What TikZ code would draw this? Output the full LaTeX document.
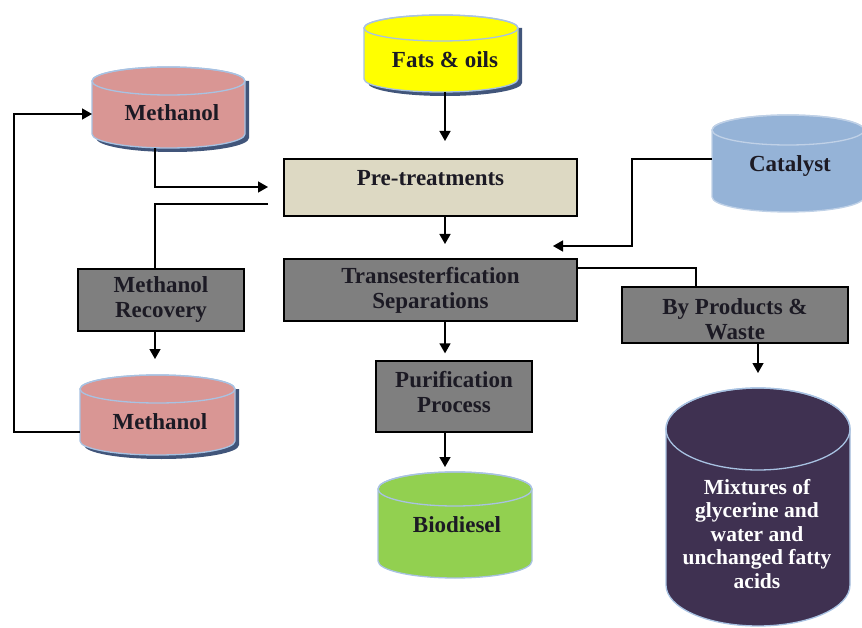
\documentclass[tikz,border=0pt]{standalone}
\usepackage{fontspec}
\setmainfont{Liberation Serif}
\usetikzlibrary{arrows.meta}
\definecolor{yel}{HTML}{FFFF00}
\definecolor{meth}{HTML}{D99694}
\definecolor{cata}{HTML}{95B3D7}
\definecolor{bio}{HTML}{92D050}
\definecolor{mixc}{HTML}{3F3151}
\definecolor{pret}{HTML}{DDD9C3}
\definecolor{grayb}{HTML}{7F7F7F}
\definecolor{edgeb}{HTML}{A8C2E2}
\definecolor{shad}{HTML}{41557A}
\definecolor{txtc}{HTML}{1C1A24}
\newcommand\drumshade[5]{%
  \pgfmathsetmacro\drx{(#3-#1)/2}%
  \fill[shad] ({#1+4},{-(#2+#5)}) -- ({#1+4},{-(#4-#5)-4}) arc[start angle=180,end angle=360,x radius=\drx,y radius=#5] -- ({#3+4},{-(#2+#5)}) -- cycle;%
}
\newcommand\drum[7]{%
  \pgfmathsetmacro\dcx{(#1+#3)/2}%
  \pgfmathsetmacro\drx{(#3-#1)/2}%
  \path[fill=#6,draw=#7,line width=1.3pt] (#1,{-(#2+#5)}) -- (#1,{-(#4-#5)}) arc[start angle=180,end angle=360,x radius=\drx,y radius=#5] -- (#3,{-(#2+#5)}) arc[start angle=0,end angle=180,x radius=\drx,y radius=#5] -- cycle;%
  \draw[#7,line width=1.3pt] (\dcx,{-(#2+#5)}) ellipse[x radius=\drx,y radius=#5];%
}
\tikzset{
  x=1pt,y=1pt,
  txt/.style={font=\fontsize{23}{25}\selectfont\bfseries, text=txtc, align=center, inner sep=0pt},
  wtxt/.style={font=\fontsize{21.5}{23.5}\selectfont\bfseries, text=white, align=center, inner sep=0pt},
  cylbox/.style={inner sep=0pt, outer sep=0pt},
  pbox/.style={draw=black, line width=1.3pt, inner sep=0pt},
  conn/.style={draw=black, line width=1.4pt},
  arr/.style={conn, -{Triangle[length=10pt,width=11pt]}}
}
\begin{document}
\begin{tikzpicture}
\useasboundingbox (0,0) rectangle (862,-628);
% cylinders (drawn)
\drumshade{364}{15}{518}{92}{13}
\drum{364}{15}{518}{92}{13}{yel}{edgeb}
\drumshade{92}{67}{245}{148}{14}
\drum{92}{67}{245}{148}{14}{meth}{edgeb}
\drum{712}{115}{864}{212}{15}{cata}{cata!60!white}
\drumshade{80}{375}{235}{455}{14}
\drum{80}{375}{235}{455}{14}{meth}{edgeb}
\drum{378}{472}{532}{578}{17}{bio}{edgeb}
\drum{666}{388}{850}{626}{41}{mixc}{edgeb}
% cylinder nodes
\node[cylbox, minimum width=154pt, minimum height=77pt] (fats) at (441,-53.5) {};
\node[cylbox, minimum width=153pt, minimum height=81pt] (meth1) at (168.5,-107.5) {};
\node[cylbox, minimum width=150pt, minimum height=97pt] (cat) at (787,-163.5) {};
\node[cylbox, minimum width=155pt, minimum height=80pt] (meth2) at (157.5,-415) {};
\node[cylbox, minimum width=154pt, minimum height=106pt] (bio) at (455,-525) {};
\node[cylbox, minimum width=184pt, minimum height=238pt] (mix) at (758,-507) {};
\node[txt] (fatsT) at (445,-60) {Fats \& oils};
\node[txt] (meth1T) at (172,-113) {Methanol};
\node[txt] (catT) at (790,-166) {Catalyst};
\node[txt] (meth2T) at (160,-422) {Methanol};
\node[txt] (bioT) at (457,-525) {Biodiesel};
\node[wtxt] (mixT) at (757,-534) {Mixtures of\\glycerine and\\water and\\unchanged fatty\\acids};
% boxes
\node[pbox, fill=pret, minimum width=293pt, minimum height=57pt] (pre) at (430.5,-187.5) {};
\node[txt] (preT) at (430.5,-178) {Pre-treatments};
\node[pbox, fill=grayb, minimum width=293pt, minimum height=62pt] (trans) at (430.5,-290) {};
\node[txt] at (trans) {Transesterfication\\Separations};
\node[pbox, fill=grayb, minimum width=166pt, minimum height=62pt] (recov) at (161,-300) {};
\node[txt] at (recov) {Methanol\\Recovery};
\node[pbox, fill=grayb, minimum width=226pt, minimum height=56pt] (byp) at (735,-315) {};
\node[txt] at ([yshift=-4pt]byp.center) {By Products \&\\Waste};
\node[pbox, fill=grayb, minimum width=156pt, minimum height=71pt] (purif) at (454,-396.5) {};
\node[txt] at ([yshift=4pt]purif.center) {Purification\\Process};
% coordinates
\coordinate (sp) at (445,0);
\coordinate (lx) at (14,0);
\coordinate (xc) at (632,0);
\coordinate (aFats) at (445,-141);
\coordinate (inPre) at (268,-187);
\coordinate (outPre) at (268,-204);
\coordinate (aTrans) at (445,-244);
\coordinate (catIn) at (553,-246);
\coordinate (m1in) at ([yshift=-6.5pt]meth1.west);
% connectors
\draw[arr] ([xshift=4pt]fats.south) -- (aFats);
\draw[arr] ([xshift=-13.5pt]meth1.south) |- (inPre);
\draw[conn] (outPre) -| ([xshift=-6pt]recov.north);
\draw[arr] (pre.south -| sp) -- (aTrans);
\draw[arr] ([yshift=4.5pt]cat.west) -| (catIn -| xc) -- (catIn);
\draw[conn] ([yshift=22pt]trans.east) -| ([xshift=-39pt]byp.north);
\draw[arr] (trans.south -| sp) -- ([yshift=7pt]purif.north -| sp);
\draw[arr] (purif.south -| sp) -- ([yshift=5pt]bio.north -| sp);
\draw[arr] ([xshift=-6pt]recov.south) -- ([xshift=-2.5pt,yshift=16pt]meth2.north);
\draw[arr] ([xshift=23pt]byp.south) -- ([yshift=15pt]mix.north);
\draw[arr] ([yshift=-17pt]meth2.west) -| (lx |- m1in) -- (m1in);
\end{tikzpicture}
\end{document}
